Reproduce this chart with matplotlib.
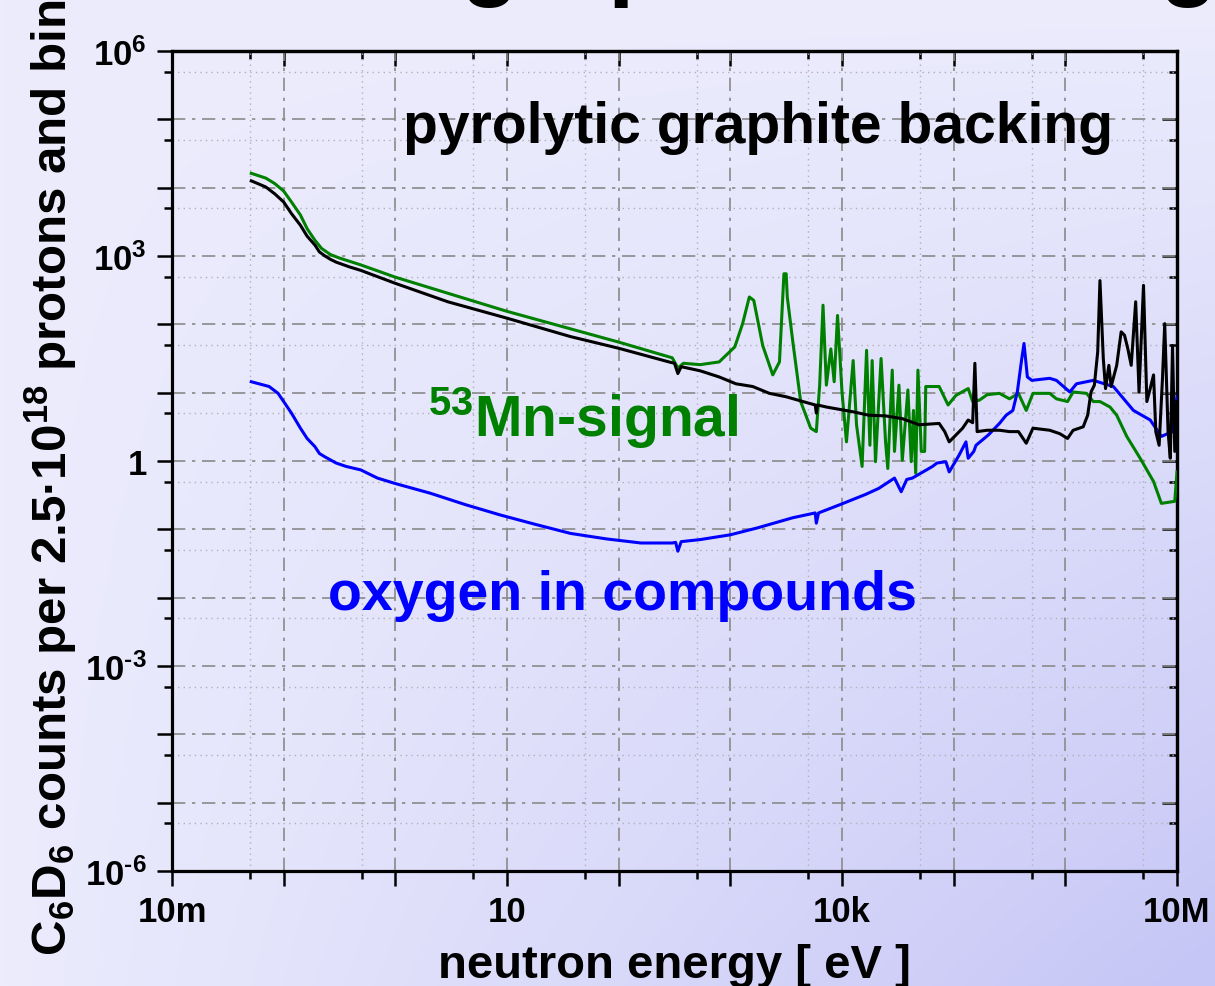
import numpy as np
import matplotlib
matplotlib.use("Agg")
import matplotlib.pyplot as plt
from matplotlib import ticker

# curves as log10(neutron energy / eV) and log10(counts per bin)
black_logE = [-1.29, -1.16, -1.08, -1.0, -0.93, -0.85, -0.79, -0.72, -0.68, -0.63, -0.58, -0.53,
              -0.41, -0.31, 0.0, 0.47, 1.0, 1.57, 2.0, 2.45,
              2.50, 2.53, 2.56, 2.73, 2.90, 3.05, 3.20, 3.35, 3.50, 3.65, 3.76, 3.77, 3.78, 3.86,
              4.10, 4.24, 4.39, 4.54, 4.69, 4.87, 4.92, 4.96, 5.02, 5.08, 5.13, 5.17, 5.19, 5.21,
              5.30, 5.41, 5.50, 5.58, 5.65, 5.71, 5.86, 5.95, 6.02, 6.07, 6.16, 6.20, 6.23, 6.26,
              6.29, 6.31, 6.34, 6.36, 6.39, 6.41, 6.46, 6.50, 6.53, 6.56, 6.59, 6.63, 6.66, 6.70,
              6.73, 6.76, 6.79, 6.81, 6.84, 6.87, 6.89, 6.92, 6.94, 6.96, 6.98, 7.0]
black_logC = [4.10, 4.01, 3.91, 3.79, 3.62, 3.45, 3.29, 3.16, 3.06, 3.00, 2.95, 2.91,
              2.84, 2.79, 2.60, 2.33, 2.09, 1.82, 1.65, 1.45,
              1.43, 1.28, 1.38, 1.32, 1.23, 1.13, 1.09, 0.99, 0.94, 0.87, 0.82, 0.70, 0.82, 0.79,
              0.72, 0.67, 0.66, 0.62, 0.53, 0.55, 0.43, 0.28, 0.38, 0.48, 0.60, 0.56, 1.43, 0.43,
              0.45, 0.45, 0.43, 0.43, 0.26, 0.48, 0.45, 0.40, 0.33, 0.45, 0.50, 0.67, 1.01, 1.11,
              1.60, 2.64, 1.50, 1.06, 1.40, 1.09, 1.40, 1.89, 1.84, 1.64, 1.40, 2.33, 1.01, 2.57,
              0.87, 1.06, 1.26, 0.43, 0.23, 1.21, 2.01, 0.43, 0.04, 1.69, 0.14, 0.87]

green_logE = [-1.29, -1.16, -1.08, -1.0, -0.93, -0.85, -0.79, -0.72, -0.66, -0.58, -0.50, -0.31,
              0.0, 1.0, 2.0, 2.48, 2.53, 2.58, 2.73,
              2.90, 3.04, 3.11, 3.17, 3.21, 3.29, 3.38, 3.44, 3.48, 3.50, 3.51, 3.56, 3.63, 3.72,
              3.77, 3.80, 3.83, 3.86, 3.90, 3.93, 3.96, 4.00, 4.04, 4.10, 4.13, 4.18, 4.22, 4.25,
              4.27, 4.30, 4.35, 4.39, 4.41, 4.45, 4.47, 4.51, 4.54, 4.59, 4.62, 4.64, 4.66, 4.68,
              4.71, 4.74, 4.75, 4.87, 4.95, 5.02, 5.13, 5.17, 5.23, 5.30, 5.41, 5.50, 5.58, 5.65,
              5.71, 5.86, 5.92, 6.02, 6.07, 6.19, 6.25, 6.31, 6.40, 6.46, 6.55, 6.67, 6.79, 6.86,
              6.98, 7.0]
green_logC = [4.21, 4.14, 4.06, 3.95, 3.79, 3.60, 3.40, 3.23, 3.11, 3.02, 2.97, 2.87,
              2.69, 2.19, 1.74, 1.51, 1.36, 1.43, 1.41,
              1.45, 1.67, 2.01, 2.40, 2.35, 1.69, 1.26, 1.45, 2.74, 2.74, 2.40, 1.74, 0.87, 0.48,
              0.43, 1.11, 2.28, 1.11, 1.64, 1.16, 2.13, 1.01, 0.28, 1.47, 0.53, -0.08, 1.62, 0.23,
              1.47, -0.01, 1.50, 0.28, -0.11, 1.33, 0.14, 1.11, 0.01, 1.04, -0.01, 0.74, -0.18, 1.33,
              0.14, 0.14, 1.09, 1.09, 0.82, 0.96, 1.06, 0.87, 0.89, 0.97, 0.99, 0.91, 0.99, 0.74,
              0.99, 0.99, 0.91, 0.87, 1.01, 0.99, 0.87, 0.87, 0.79, 0.67, 0.36, 0.04, -0.30, -0.62,
              -0.59, -0.16]

blue_logE = [-1.29, -1.13, -1.05, -1.0, -0.93, -0.85, -0.79, -0.72, -0.68, -0.63, -0.53, -0.44,
             -0.31, -0.16, 0.0, 0.31, 0.63, 0.94,
             1.26, 1.57, 1.89, 2.20, 2.48, 2.51, 2.53, 2.56, 2.73, 3.0, 3.24, 3.56, 3.76, 3.77,
             3.79, 3.98, 4.21, 4.33, 4.47, 4.53, 4.58, 4.63, 4.81, 4.85, 4.93, 4.96, 5.05, 5.11,
             5.13, 5.18, 5.20, 5.31, 5.41, 5.47, 5.53, 5.57, 5.61, 5.63, 5.66, 5.70, 5.86, 5.92,
             6.04, 6.10, 6.25, 6.43, 6.61, 6.76, 6.86, 6.96, 7.0]
blue_logC = [1.16, 1.09, 0.99, 0.87, 0.70, 0.48, 0.33, 0.21, 0.11, 0.06, -0.03, -0.08,
             -0.13, -0.25, -0.33, -0.47, -0.64, -0.79,
             -0.93, -1.06, -1.14, -1.20, -1.20, -1.19, -1.32, -1.18, -1.15, -1.08, -0.98, -0.83,
             -0.76, -0.91, -0.76, -0.64, -0.49, -0.40, -0.25, -0.45, -0.27, -0.25, -0.08, -0.03,
             -0.01, -0.16, 0.09, 0.28, 0.04, 0.14, 0.23, 0.38, 0.55, 0.67, 0.74, 1.01, 1.50, 1.72,
             1.23, 1.18, 1.21, 1.18, 1.01, 1.13, 1.18, 1.09, 0.74, 0.60, 0.36, 0.43, 0.94]

x_tick_text = {-2: "10m", 1: "10", 4: "10k", 7: "10M"}
y_tick_text = {6: r"$10^{6}$", 3: r"$10^{3}$", 0: "1", -3: r"$10^{\text{-3}}$", -6: r"$10^{\text{-6}}$"}

plt.rcParams["font.family"] = ["Liberation Sans", "DejaVu Sans"]
plt.rcParams["font.weight"] = "bold"
plt.rcParams["mathtext.fontset"] = "custom"
plt.rcParams["mathtext.rm"] = "Liberation Sans:bold"
plt.rcParams["mathtext.it"] = "Liberation Sans:bold:italic"
plt.rcParams["mathtext.bf"] = "Liberation Sans:bold"
plt.rcParams["mathtext.sf"] = "Liberation Sans:bold"

W, H = 1215, 987
fig = plt.figure(figsize=(W / 100, H / 100), dpi=100)

# lavender wash, darker toward the bottom right corner
bg = fig.add_axes([0, 0, 1, 1], zorder=-10)
gx, gy = np.meshgrid(np.linspace(0, 1, 400), np.linspace(0, 1, 400))
t = gx * gy
c0 = np.array([236, 236, 253]) / 255
c1 = np.array([197, 197, 246]) / 255
bg.imshow(c0 + (c1 - c0) * t[..., None], aspect="auto", extent=[0, 1, 0, 1], origin="upper")
bg.axis("off")

ax = fig.add_axes([172 / W, 1 - 872 / H, (1177 - 172) / W, (872 - 52) / H])
ax.set_facecolor("none")
ax.set_xscale("log")
ax.set_yscale("log")
ax.set_xlim(1e-2, 1e7)
ax.set_ylim(1e-6, 1e6)

ax.plot(10.0 ** np.array(green_logE), 10.0 ** np.array(green_logC), color="#008000", lw=2.2, zorder=3)
ax.plot(10.0 ** np.array(blue_logE), 10.0 ** np.array(blue_logC), color="#0000ff", lw=2.2, zorder=4)
ax.plot(10.0 ** np.array(black_logE), 10.0 ** np.array(black_logC), color="black", lw=2.2, zorder=5)

x_major = [10.0 ** k for k in range(-2, 8)]
x_minor = [5 * 10.0 ** k for k in range(-2, 7)]
y_major = [10.0 ** k for k in range(-6, 7)]
y_minor = [5 * 10.0 ** k for k in range(-6, 6)]


def fmt_x(v, pos):
    return x_tick_text.get(int(round(np.log10(v))), "")


def fmt_y(v, pos):
    return y_tick_text.get(int(round(np.log10(v))), "")


ax.xaxis.set_major_locator(ticker.FixedLocator(x_major))
ax.xaxis.set_minor_locator(ticker.FixedLocator(x_minor))
ax.yaxis.set_major_locator(ticker.FixedLocator(y_major))
ax.yaxis.set_minor_locator(ticker.FixedLocator(y_minor))
ax.xaxis.set_major_formatter(ticker.FuncFormatter(fmt_x))
ax.yaxis.set_major_formatter(ticker.FuncFormatter(fmt_y))
ax.xaxis.set_minor_formatter(ticker.NullFormatter())
ax.yaxis.set_minor_formatter(ticker.NullFormatter())

ax.grid(which="major", ls=(0, (8, 4, 2, 4)), color="#8a8a8a", lw=1.2, zorder=1)
ax.grid(which="minor", ls=(0, (1, 3)), color="#b0b0bc", lw=1.0, zorder=1)

ax.tick_params(which="both", direction="out", width=1.8, labelsize=25, color="black")
ax.tick_params(which="major", length=11)
ax.tick_params(which="minor", length=5.5)
ax.tick_params(axis="x", pad=6)
ax.tick_params(axis="y", pad=7)
for sp in ax.spines.values():
    sp.set_linewidth(2.3)

# inward ticks on the top and right edges
top = ax.secondary_xaxis("top")
top.xaxis.set_major_locator(ticker.FixedLocator(x_major))
top.xaxis.set_minor_locator(ticker.FixedLocator(x_minor))
top.xaxis.set_major_formatter(ticker.NullFormatter())
top.xaxis.set_minor_formatter(ticker.NullFormatter())
top.tick_params(which="both", direction="in", width=1.8)
top.tick_params(which="major", length=11)
top.tick_params(which="minor", length=5.5)
top.spines["top"].set_linewidth(2.3)

right = ax.secondary_yaxis("right")
right.yaxis.set_major_locator(ticker.FixedLocator(y_major))
right.yaxis.set_minor_locator(ticker.FixedLocator(y_minor))
right.yaxis.set_major_formatter(ticker.NullFormatter())
right.yaxis.set_minor_formatter(ticker.NullFormatter())
right.tick_params(which="both", direction="in", width=1.8)
right.tick_params(which="major", length=11)
right.tick_params(which="minor", length=5.5)
right.spines["right"].set_linewidth(2.3)

# annotations and axis titles
fig.text(403 / W, 1 - 143 / H, "pyrolytic graphite backing", fontsize=41, color="black",
         ha="left", va="baseline")
fig.text(428 / W, 1 - 437 / H, r"$^{53}$Mn-signal", fontsize=41, color="#008000",
         ha="left", va="baseline")
fig.text(328 / W, 1 - 610 / H, "oxygen in compounds", fontsize=40, color="#0000ff",
         ha="left", va="baseline")
fig.text(674 / W, 1 - 978 / H, "neutron energy [ eV ]", fontsize=34, ha="center", va="baseline")
fig.text(51 / W, 1 - 956 / H, "C$_6$D$_6$ counts per 2.5\u00b710$^{18}$ protons and bin",
         fontsize=35.5, rotation=90, ha="center", va="bottom")

# slide title running off the top edge
fig.text(1218 / W, 1 + 12 / H, "MnO2 with graphite backing", fontsize=68, ha="right", va="baseline")

fig.savefig("out.png", dpi=100)
